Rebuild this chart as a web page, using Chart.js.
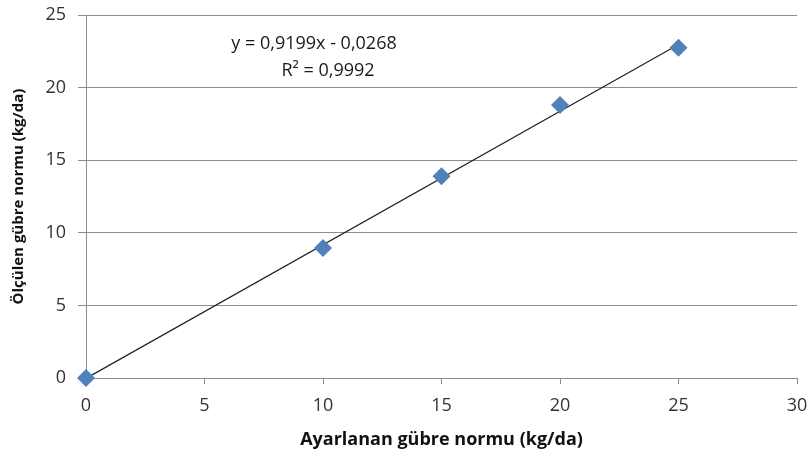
<!DOCTYPE html>
<html>
<head>
<meta charset="utf-8">
<script src="https://cdn.jsdelivr.net/npm/chart.js@4"></script>
<style>
  html, body { margin: 0; padding: 0; background: #fff; }
  #wrap { width: 809px; height: 455px; }
</style>
</head>
<body>
<div id="wrap"><canvas id="chart"></canvas></div>
<script>
// ölçülen değerler
const setRates = [0, 10, 15, 20, 25];
const measuredRates = [0, 8.95, 13.9, 18.8, 22.75];

// trend çizgisi denklemi: y = 0,9199x - 0,0268
const slope = 0.9199;
const intercept = -0.0268;
const trendRange = [0, 25];

const xTicks = [0, 5, 10, 15, 20, 25, 30];
const yTicks = [0, 5, 10, 15, 20, 25];

const xTitle = "Ayarlanan gübre normu (kg/da)";
const yTitle = "Ölçülen gübre normu (kg/da)";
const eqLines = ["y = 0,9199x - 0,0268", "R² = 0,9992"];

const FONT = "'Open Sans', sans-serif";
const GRID = "#8c8c8c";

const measuredPts = setRates.map((x, i) => ({ x: x, y: measuredRates[i] }));
const trendPts = trendRange.map(x => ({ x: x, y: slope * x + intercept }));

// denklem yazısını çiz
const eqPlugin = {
  id: "eq",
  afterDatasetsDraw(chart) {
    const ctx = chart.ctx;
    ctx.save();
    ctx.fillStyle = "#1a1a1a";
    ctx.font = "18px " + FONT;
    ctx.textAlign = "center";
    ctx.textBaseline = "middle";
    ctx.fillText(eqLines[0], 314, 44);
    ctx.fillText(eqLines[1], 328, 71);
    ctx.restore();
  }
};

new Chart(document.getElementById("chart"), {
  type: "scatter",
  data: {
    datasets: [
      {
        label: "trend",
        data: trendPts,
        showLine: true,
        borderColor: "#222",
        borderWidth: 1.2,
        pointRadius: 0,
        clip: false,
        order: 2
      },
      {
        label: "ölçülen",
        data: measuredPts,
        pointStyle: "rectRot",
        pointRadius: 9,
        backgroundColor: "#4f81bd",
        borderColor: "#4f81bd",
        borderWidth: 0,
        clip: false,
        order: 1
      }
    ]
  },
  options: {
    responsive: true,
    maintainAspectRatio: false,
    animation: false,
    layout: { padding: { top: 15, right: 12, left: 6, bottom: 0 } },
    plugins: {
      legend: { display: false },
      tooltip: { enabled: false }
    },
    scales: {
      x: {
        type: "linear",
        min: 0, max: 30,
        afterBuildTicks: s => { s.ticks = xTicks.map(v => ({ value: v })); },
        grid: { display: true, drawOnChartArea: false, color: GRID, tickLength: 6 },
        border: { color: GRID, width: 1 },
        ticks: { color: "#333", font: { family: FONT, size: 18 }, padding: 11 },
        title: {
          display: true, text: xTitle, color: "#111",
          font: { family: FONT, size: 18, weight: "bold" }, padding: { top: 2, bottom: 4 }
        },
        afterFit: s => { s.height = 77; s.paddingLeft = 0; s.paddingRight = 0; }
      },
      y: {
        type: "linear",
        min: 0, max: 25,
        afterBuildTicks: s => { s.ticks = yTicks.map(v => ({ value: v })); },
        grid: { color: GRID, tickLength: 8 },
        border: { color: GRID, width: 1 },
        ticks: { color: "#333", font: { family: FONT, size: 18 }, padding: 12 },
        title: {
          display: true, text: yTitle, color: "#111",
          font: { family: FONT, size: 15, weight: "bold" }, padding: { top: 4, bottom: 2 }
        },
        afterFit: s => { s.width = 80; s.paddingTop = 0; s.paddingBottom = 0; }
      }
    }
  },
  plugins: [eqPlugin]
});
</script>
</body>
</html>
